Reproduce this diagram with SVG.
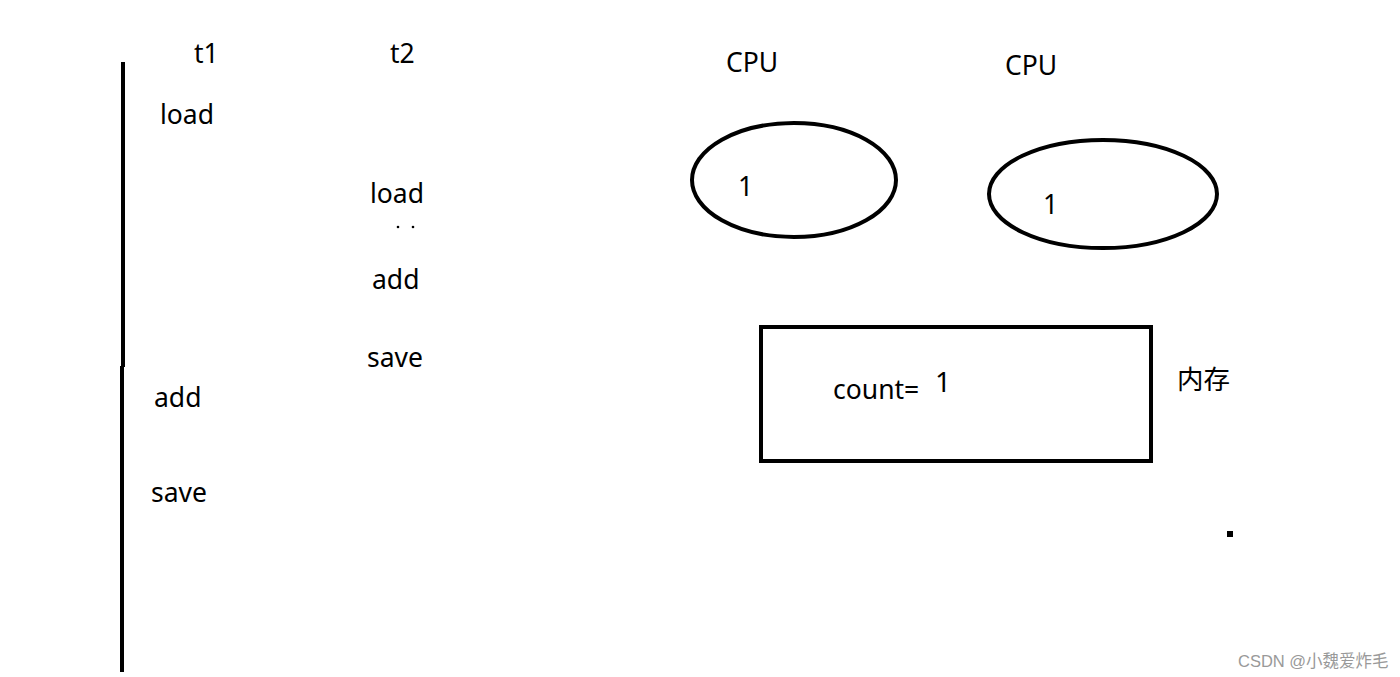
<svg xmlns="http://www.w3.org/2000/svg" width="1400" height="677" viewBox="0 0 1400 677">
<style>
.t{font-family:"Noto Sans","Open Sans","Noto Sans CJK SC",sans-serif;font-size:26.5px;fill:#000}
.s{fill:none;stroke:#000;stroke-width:4}
.wm{font-family:"Liberation Sans","Noto Sans CJK SC",sans-serif;font-size:16.5px;fill:#999}
</style>
<rect width="1400" height="677" fill="#fff"/>
<g id="timeline">
<line class="s" x1="123" y1="62" x2="123" y2="367"/>
<line class="s" x1="122" y1="366" x2="122" y2="672"/>
</g>
<g id="t1">
<text class="t" x="194" y="63">t1</text>
<text class="t" x="160" y="124">load</text>
<text class="t" x="154" y="407">add</text>
<text class="t" x="151" y="502">save</text>
</g>
<g id="t2">
<text class="t" x="390" y="63">t2</text>
<text class="t" x="370" y="203">load</text>
<circle cx="398" cy="227" r="1.3" fill="#000"/>
<circle cx="413" cy="227" r="1.3" fill="#000"/>
<text class="t" x="372" y="289">add</text>
<text class="t" x="367" y="367">save</text>
</g>
<g id="cpu1">
<text class="t" x="726" y="72">CPU</text>
<ellipse class="s" cx="794" cy="180" rx="102" ry="57"/>
<text class="t" x="738" y="196">1</text>
</g>
<g id="cpu2">
<text class="t" x="1005" y="75">CPU</text>
<ellipse class="s" cx="1103" cy="194" rx="114" ry="54"/>
<text class="t" x="1043" y="214">1</text>
</g>
<g id="memory">
<rect class="s" x="761" y="327" width="390" height="134"/>
<text class="t" x="833" y="399">count=</text>
<text class="t" x="935" y="392" style="font-size:28px">1</text>
<text class="t" x="1177" y="389">内存</text>
</g>
<g id="connectors"></g>
<rect x="1227" y="531" width="6" height="6" fill="#000"/>
<text class="wm" x="1238" y="667">CSDN @小魏爱炸毛</text>
</svg>
